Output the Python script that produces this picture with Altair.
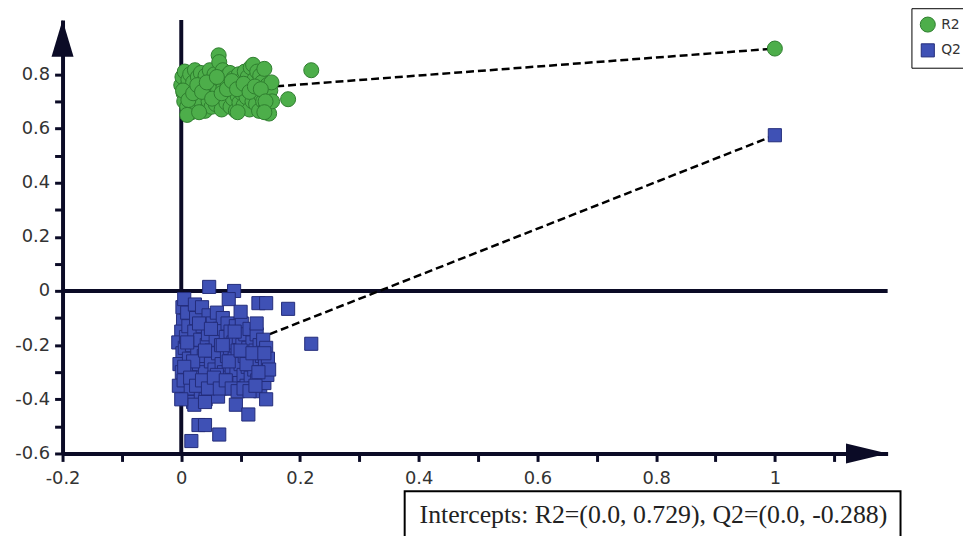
import altair as alt
import pandas as pd

# ---------------- data ----------------
R2_X = [0.000, 0.002, 0.004, 0.005, 0.006, 0.008, 0.010, 0.012, 0.014, 0.015, 0.017, 0.018, 0.020, 0.022,
        0.023, 0.025, 0.027, 0.028, 0.030, 0.032, 0.033, 0.035, 0.036, 0.038, 0.040, 0.041, 0.043, 0.045,
        0.046, 0.048, 0.050, 0.051, 0.053, 0.055, 0.056, 0.058, 0.060, 0.062, 0.063, 0.064, 0.065, 0.066,
        0.068, 0.070, 0.071, 0.073, 0.075, 0.076, 0.078, 0.080, 0.082, 0.083, 0.085, 0.087, 0.088, 0.090,
        0.092, 0.093, 0.095, 0.097, 0.098, 0.100, 0.102, 0.103, 0.105, 0.107, 0.108, 0.110, 0.112, 0.113,
        0.115, 0.117, 0.118, 0.120, 0.121, 0.123, 0.125, 0.126, 0.128, 0.130, 0.131, 0.133, 0.135, 0.136,
        0.138, 0.140, 0.141, 0.143, 0.145, 0.146, 0.148, 0.150, 0.152, 0.153, 0.180, 0.219,
        0.003, 0.012, 0.020, 0.027, 0.035, 0.043, 0.052, 0.060, 0.068, 0.077, 0.085, 0.094, 0.105, 0.115,
        0.124, 0.134, 0.142, 0.010, 0.030, 0.095, 0.140]
R2_Y = [0.760, 0.790, 0.730, 0.700, 0.810, 0.750, 0.680, 0.780, 0.720, 0.800, 0.660, 0.745, 0.770, 0.700,
        0.815, 0.735, 0.675, 0.790, 0.755, 0.715, 0.805, 0.690, 0.770, 0.740, 0.665, 0.795, 0.725, 0.760,
        0.700, 0.815, 0.745, 0.680, 0.780, 0.720, 0.800, 0.690, 0.760, 0.740, 0.870, 0.845, 0.705, 0.780,
        0.670, 0.815, 0.750, 0.725, 0.790, 0.695, 0.765, 0.735, 0.805, 0.680, 0.755, 0.710, 0.785, 0.740,
        0.665, 0.770, 0.720, 0.800, 0.695, 0.750, 0.730, 0.780, 0.685, 0.810, 0.755, 0.715, 0.790, 0.740,
        0.670, 0.825, 0.765, 0.700, 0.835, 0.780, 0.730, 0.690, 0.810, 0.750, 0.665, 0.795, 0.720, 0.770,
        0.700, 0.820, 0.745, 0.680, 0.760, 0.725, 0.655, 0.740, 0.770, 0.700, 0.708, 0.815,
        0.740, 0.705, 0.730, 0.760, 0.735, 0.770, 0.710, 0.790, 0.730, 0.745, 0.775, 0.745, 0.765, 0.735,
        0.755, 0.745, 0.700, 0.650, 0.660, 0.660, 0.660]

Q2_X = [0.002, 0.005, 0.003, 0.000, -0.005, 0.002, -0.003, 0.001, -0.004, 0.004, 0.006, 0.008, 0.010, 0.012,
        0.013, 0.015, 0.016, 0.018, 0.020, 0.022, 0.023, 0.025, 0.027, 0.028, 0.030, 0.032, 0.033, 0.035,
        0.036, 0.038, 0.040, 0.041, 0.043, 0.045, 0.046, 0.048, 0.050, 0.051, 0.053, 0.055, 0.056, 0.058,
        0.060, 0.062, 0.063, 0.065, 0.067, 0.068, 0.070, 0.072, 0.073, 0.075, 0.077, 0.078, 0.080, 0.082,
        0.083, 0.085, 0.087, 0.088, 0.090, 0.092, 0.093, 0.095, 0.097, 0.098, 0.100, 0.102, 0.103, 0.105,
        0.107, 0.108, 0.110, 0.112, 0.113, 0.115, 0.117, 0.118, 0.120, 0.122, 0.123, 0.125, 0.127, 0.128,
        0.130, 0.132, 0.133, 0.135, 0.136, 0.138, 0.140, 0.141, 0.143, 0.145, 0.146, 0.148, 0.143, 0.127,
        0.047, 0.089, 0.080, 0.100, 0.130, 0.143, 0.180, 0.219, 0.017, 0.029, 0.040, 0.064, 0.092, 0.113,
        0.022, 0.040, 0.062, 0.000,
        0.010, 0.020, 0.030, 0.040, 0.050, 0.060, 0.070, 0.080, 0.090, 0.100, 0.110, 0.120, 0.130, 0.140,
        0.005, 0.015, 0.025, 0.035, 0.045, 0.055, 0.065, 0.075, 0.085, 0.095, 0.105, 0.115, 0.125]
Q2_Y = [-0.060, -0.030, -0.110, -0.150, -0.190, -0.230, -0.270, -0.300, -0.350, -0.330, -0.210, -0.170, -0.080, -0.130,
        -0.250, -0.290, -0.360, -0.200, -0.410, -0.150, -0.050, -0.100, -0.230, -0.320, -0.270, -0.180, -0.380, -0.060,
        -0.130, -0.240, -0.300, -0.400, -0.200, -0.160, -0.090, -0.340, -0.260, -0.220, -0.120, -0.370, -0.290, -0.180,
        -0.080, -0.230, -0.330, -0.140, -0.200, -0.270, -0.100, -0.300, -0.360, -0.170, -0.240, -0.120, -0.320, -0.210,
        -0.150, -0.280, -0.350, -0.190, -0.250, -0.130, -0.300, -0.220, -0.170, -0.340, -0.270, -0.120, -0.200, -0.310,
        -0.240, -0.160, -0.350, -0.280, -0.210, -0.140, -0.320, -0.250, -0.190, -0.360, -0.290, -0.220, -0.160, -0.330,
        -0.260, -0.200, -0.370, -0.300, -0.240, -0.180, -0.340, -0.270, -0.210, -0.310, -0.250, -0.290, -0.400, -0.120,
        0.015, 0.000, -0.030, -0.077, -0.045, -0.045, -0.066, -0.195, -0.554, -0.495, -0.495, -0.530, -0.420, -0.456,
        -0.420, -0.410, -0.390, -0.400,
        -0.190, -0.260, -0.120, -0.220, -0.140, -0.310, -0.200, -0.260, -0.150, -0.220, -0.270, -0.230, -0.300, -0.230,
        -0.280, -0.320, -0.350, -0.330, -0.360, -0.320, -0.360, -0.330, -0.360, -0.370, -0.360, -0.370, -0.350]

ORIG_X = 1.0
R2_ORIG = 0.895
Q2_ORIG = 0.575
R2_INTERCEPT = 0.729
Q2_INTERCEPT = -0.288
SERIES = ["R2", "Q2"]
X_TICKS = [-0.2, -0.1, 0.0, 0.1, 0.2, 0.3, 0.4, 0.5, 0.6, 0.7, 0.8, 0.9, 1.0, 1.1]
Y_TICKS = [-0.6, -0.5, -0.4, -0.3, -0.2, -0.1, 0.0, 0.1, 0.2, 0.3, 0.4, 0.5, 0.6, 0.7, 0.8, 0.9]
X_DOMAIN = [-0.2, 1.19]
Y_DOMAIN = [-0.6, 1.0]
NOTE = "Intercepts: R2=(0.0, 0.729), Q2=(0.0, -0.288)"

# ---------------- tables ----------------
points = pd.DataFrame(
    [{"series": "R2", "x": x, "y": y} for x, y in zip(R2_X, R2_Y)]
    + [{"series": "Q2", "x": x, "y": y} for x, y in zip(Q2_X, Q2_Y)]
    + [{"series": "R2", "x": ORIG_X, "y": R2_ORIG}, {"series": "Q2", "x": ORIG_X, "y": Q2_ORIG}]
)
lines = pd.DataFrame([
    {"series": "R2", "x": 0.0, "y": R2_INTERCEPT}, {"series": "R2", "x": ORIG_X, "y": R2_ORIG},
    {"series": "Q2", "x": 0.0, "y": Q2_INTERCEPT}, {"series": "Q2", "x": ORIG_X, "y": Q2_ORIG},
])
origin = pd.DataFrame([{"x": 0.0, "y": 0.0}])
corner = pd.DataFrame([{"xl": X_DOMAIN[0], "yt": Y_DOMAIN[1], "xr": X_DOMAIN[1], "yb": Y_DOMAIN[0]}])
note = pd.DataFrame([{"t": NOTE}])

AX = "#0b0b26"
xs = alt.Scale(domain=X_DOMAIN, nice=False, zero=False)
ys = alt.Scale(domain=Y_DOMAIN, nice=False, zero=False)

lab = "round(datum.value*10) % 2 == 0 ? toString(round(datum.value*10)/10) : ''"

common = dict(labelExpr=lab, grid=False, title=None,
              domainColor=AX, domainWidth=4, tickColor=AX, tickWidth=3, tickSize=8,
              labelFont="DejaVu Sans", labelFontSize=18, labelColor="#333333",
              labelFlush=False, labelOverlap=False)
x_axis = alt.Axis(values=X_TICKS, labelPadding=8, **common)
y_axis = alt.Axis(values=Y_TICKS, labelPadding=5, **common)

base_x = alt.X("x:Q", scale=xs, axis=x_axis)
base_y = alt.Y("y:Q", scale=ys, axis=y_axis)

hline = alt.Chart(origin).mark_rule(color=AX, strokeWidth=4).encode(
    y=alt.Y("y:Q", scale=ys, axis=y_axis), x=alt.value(0), x2=alt.value(832))
vline = alt.Chart(origin).mark_rule(color=AX, strokeWidth=4).encode(
    x=alt.X("x:Q", scale=xs, axis=x_axis), y=alt.value(0), y2=alt.value(437))

dashed = alt.Chart(lines).mark_line(color="black", strokeWidth=2.5, strokeDash=[8, 4]).encode(
    x=base_x, y=base_y, detail="series:N")

color_scale = alt.Scale(domain=SERIES, range=["#4dae4a", "#3f51b5"])
shape_scale = alt.Scale(domain=SERIES, range=["circle", "square"])
stroke_scale = alt.Scale(domain=SERIES, range=["#2f7d2f", "#232d7a"])
size_scale = alt.Scale(domain=SERIES, range=[230, 175])

leg = alt.Legend(title=None, orient="none", legendX=856, legendY=-12,
                 strokeColor="black", fillColor="white", padding=8,
                 labelFont="DejaVu Sans", labelFontSize=14, labelColor="#333333",
                 symbolSize=230, symbolStrokeColor="#2a3a2a", symbolStrokeWidth=1,
                 rowPadding=6, labelOffset=5)

pts = alt.Chart(points).mark_point(filled=True, opacity=1, strokeWidth=1).encode(
    x=base_x, y=base_y,
    color=alt.Color("series:N", scale=color_scale, legend=leg),
    shape=alt.Shape("series:N", scale=shape_scale, legend=leg),
    stroke=alt.Stroke("series:N", scale=stroke_scale, legend=None),
    size=alt.Size("series:N", scale=size_scale, legend=None),
)

arrow_up = alt.Chart(corner).mark_point(
    shape="M0,0L0.6,2L-0.6,2Z", size=1369, filled=True, color=AX, opacity=1).encode(
    x=alt.X("xl:Q", scale=xs, axis=x_axis), y=alt.Y("yt:Q", scale=ys, axis=y_axis))
arrow_right = alt.Chart(corner).mark_point(
    shape="M0,0L-2,-0.48L-2,0.48Z", size=1764, filled=True, color=AX, opacity=1).encode(
    x=alt.X("xr:Q", scale=xs, axis=x_axis), y=alt.Y("yb:Q", scale=ys, axis=y_axis))

box = alt.Chart(note).mark_rect(fill="white", stroke="black", strokeWidth=2).encode(
    x=alt.value(345), x2=alt.value(845), y=alt.value(475), y2=alt.value(545))
txt = alt.Chart(note).mark_text(align="left", baseline="alphabetic", font="Liberation Serif",
                                fontSize=26, color="#222222").encode(
    text="t:N", x=alt.value(360), y=alt.value(507))

chart = alt.layer(hline, vline, dashed, pts, arrow_up, arrow_right, box, txt).properties(
    width=832, height=437,
    background="white",
    autosize=alt.AutoSizeParams(type="none"),
    padding={"left": 55, "top": 10, "right": 76, "bottom": 81},
).configure_view(stroke=None)

chart.save("out.html", embed_options={"renderer": "svg", "actions": False})
